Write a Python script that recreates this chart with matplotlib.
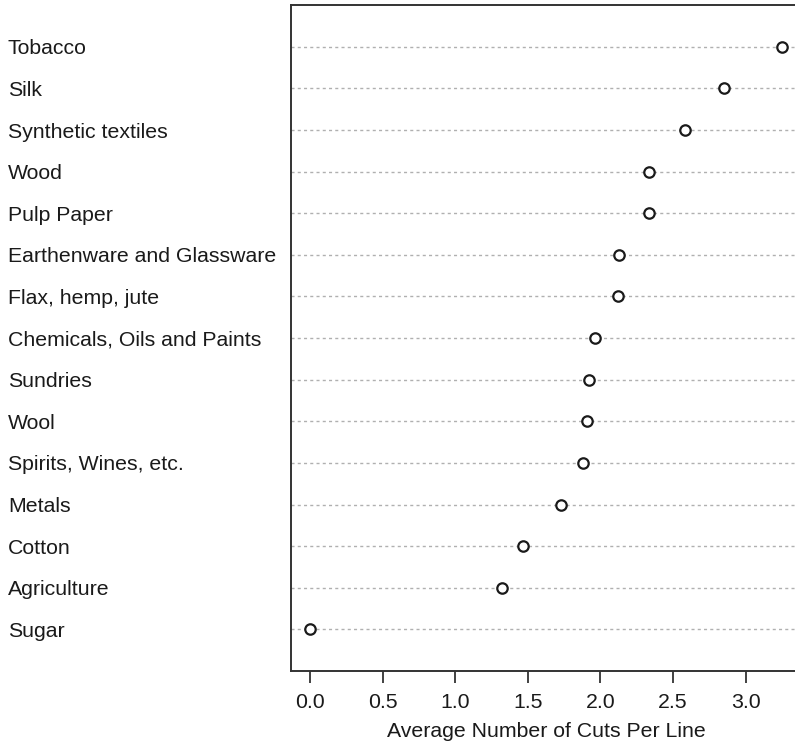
import matplotlib
matplotlib.use("Agg")
import matplotlib.pyplot as plt
import numpy as np

plt.rcParams['font.family'] = ['Liberation Sans', 'DejaVu Sans']

# categories listed from bottom to top
industries = ["Sugar", "Agriculture", "Cotton", "Metals", "Spirits, Wines, etc.",
              "Wool", "Sundries", "Chemicals, Oils and Paints", "Flax, hemp, jute",
              "Earthenware and Glassware", "Pulp Paper", "Wood",
              "Synthetic textiles", "Silk", "Tobacco"]
avg_cuts = [0.0, 1.32, 1.47, 1.73, 1.88,
            1.91, 1.92, 1.96, 2.12,
            2.125, 2.335, 2.335,
            2.58, 2.85, 3.25]
xticks = [0.0, 0.5, 1.0, 1.5, 2.0, 2.5, 3.0]

fig = plt.figure(figsize=(7.95, 7.49), dpi=100)
ax = fig.add_axes([0.366, 0.1041, 0.6415, 0.889])

ypos = np.arange(1, len(industries) + 1)
for y in ypos:
    ax.axhline(y, color="#b0b0b0", lw=1.0, dashes=(2.2, 2.3), zorder=1)
ax.plot(avg_cuts, ypos, linestyle="none", marker="o", ms=7.5,
        mfc="white", mec="#1a1a1a", mew=1.6, zorder=3)

ax.set_xlim(-0.13, 3.38)
ax.set_ylim(0, 16)
ax.set_xticks(xticks)
ax.set_xticklabels(["%.1f" % t for t in xticks])
ax.set_yticks(ypos)
ax.set_yticklabels(industries)
for lab in ax.get_yticklabels():
    lab.set_horizontalalignment("left")

fs = 15.3
ax.tick_params(axis="y", length=0, pad=203.8, labelsize=fs, colors="#1a1a1a")
ax.tick_params(axis="x", length=8.6, width=1.3, pad=7.5, labelsize=fs,
               colors="#1a1a1a", color="#333333")
ax.set_xlabel("Average Number of Cuts Per Line", fontsize=fs, labelpad=7,
              color="#1a1a1a")

ax.spines["right"].set_visible(False)
for side in ["left", "bottom", "top"]:
    ax.spines[side].set_color("#333333")
    ax.spines[side].set_linewidth(1.4)

fig.savefig("out.png", dpi=100)
